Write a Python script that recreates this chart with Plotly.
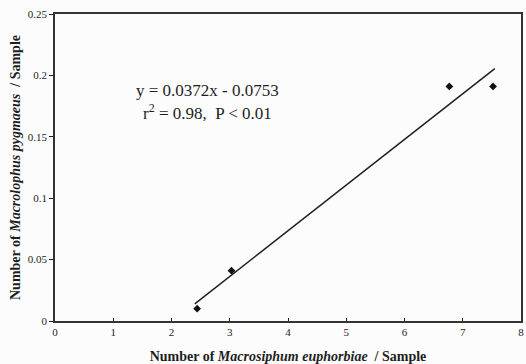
import plotly.graph_objects as go

# Data
x_vals = [2.44, 3.03, 6.77, 7.52]
y_vals = [0.010, 0.041, 0.191, 0.191]

slope = 0.0372
intercept = -0.0753
fit_x = [2.4, 7.55]
fit_y = [slope * v + intercept for v in fit_x]

x_ticks = [0, 1, 2, 3, 4, 5, 6, 7, 8]
y_ticks = [0, 0.05, 0.1, 0.15, 0.2, 0.25]
y_tick_text = ["0", "0.05", "0.1", "0.15", "0.2", "0.25"]

FONT = "Liberation Serif, Times New Roman, serif"
INK = "#1e1e1e"

fig = go.Figure()
fig.add_trace(go.Scatter(x=fit_x, y=fit_y, mode="lines",
                         line=dict(color=INK, width=1.5), showlegend=False))
fig.add_trace(go.Scatter(x=x_vals, y=y_vals, mode="markers",
                         marker=dict(symbol="diamond", size=6, color="#111111"),
                         showlegend=False))

fig.add_annotation(x=2.62, y=0.1875, xref="x", yref="y",
                   text="y = 0.0372x - 0.0753", showarrow=False,
                   font=dict(family=FONT, size=17, color=INK),
                   xanchor="center", yanchor="middle")
fig.add_annotation(x=2.62, y=0.1705, xref="x", yref="y",
                   text="r<sup>2</sup> = 0.98,  P &lt; 0.01", showarrow=False,
                   font=dict(family=FONT, size=17, color=INK),
                   xanchor="center", yanchor="middle")

fig.update_layout(
    width=526, height=364,
    margin=dict(l=55, r=5, t=14, b=43),
    paper_bgcolor="#fcfcfc", plot_bgcolor="#fcfcfc",
    font=dict(family=FONT, color=INK),
)
fig.update_xaxes(
    range=[0, 8], tickvals=x_ticks, ticks="inside", ticklen=3, tickcolor=INK,
    showgrid=False, zeroline=False, showline=True, linecolor="#333333",
    linewidth=1.6, mirror=True, automargin=False, ticklabeloverflow="allow",
    tickfont=dict(family=FONT, size=11, color=INK),
    title=dict(text="<b>Number of <i>Macrosiphum euphorbiae</i>  / Sample</b>",
               font=dict(family=FONT, size=14, color=INK), standoff=15),
)
fig.update_yaxes(
    range=[0, 0.25], tickvals=y_ticks, ticktext=y_tick_text, ticks="outside",
    ticklen=4, tickcolor=INK,
    showgrid=False, zeroline=False, showline=True, linecolor="#333333",
    linewidth=1.6, mirror=True, automargin=False, ticklabeloverflow="allow",
    tickfont=dict(family=FONT, size=11, color=INK),
    title=dict(text="<b>Number of <i>Macrolophus pygmaeus</i>  / Sample</b>",
               font=dict(family=FONT, size=14, color=INK), standoff=4),
)

# remove the browser's default page margin so the figure fills the window
fig.write_html("out.html", config={"displayModeBar": False},
               post_script="document.body.style.margin='0';")
